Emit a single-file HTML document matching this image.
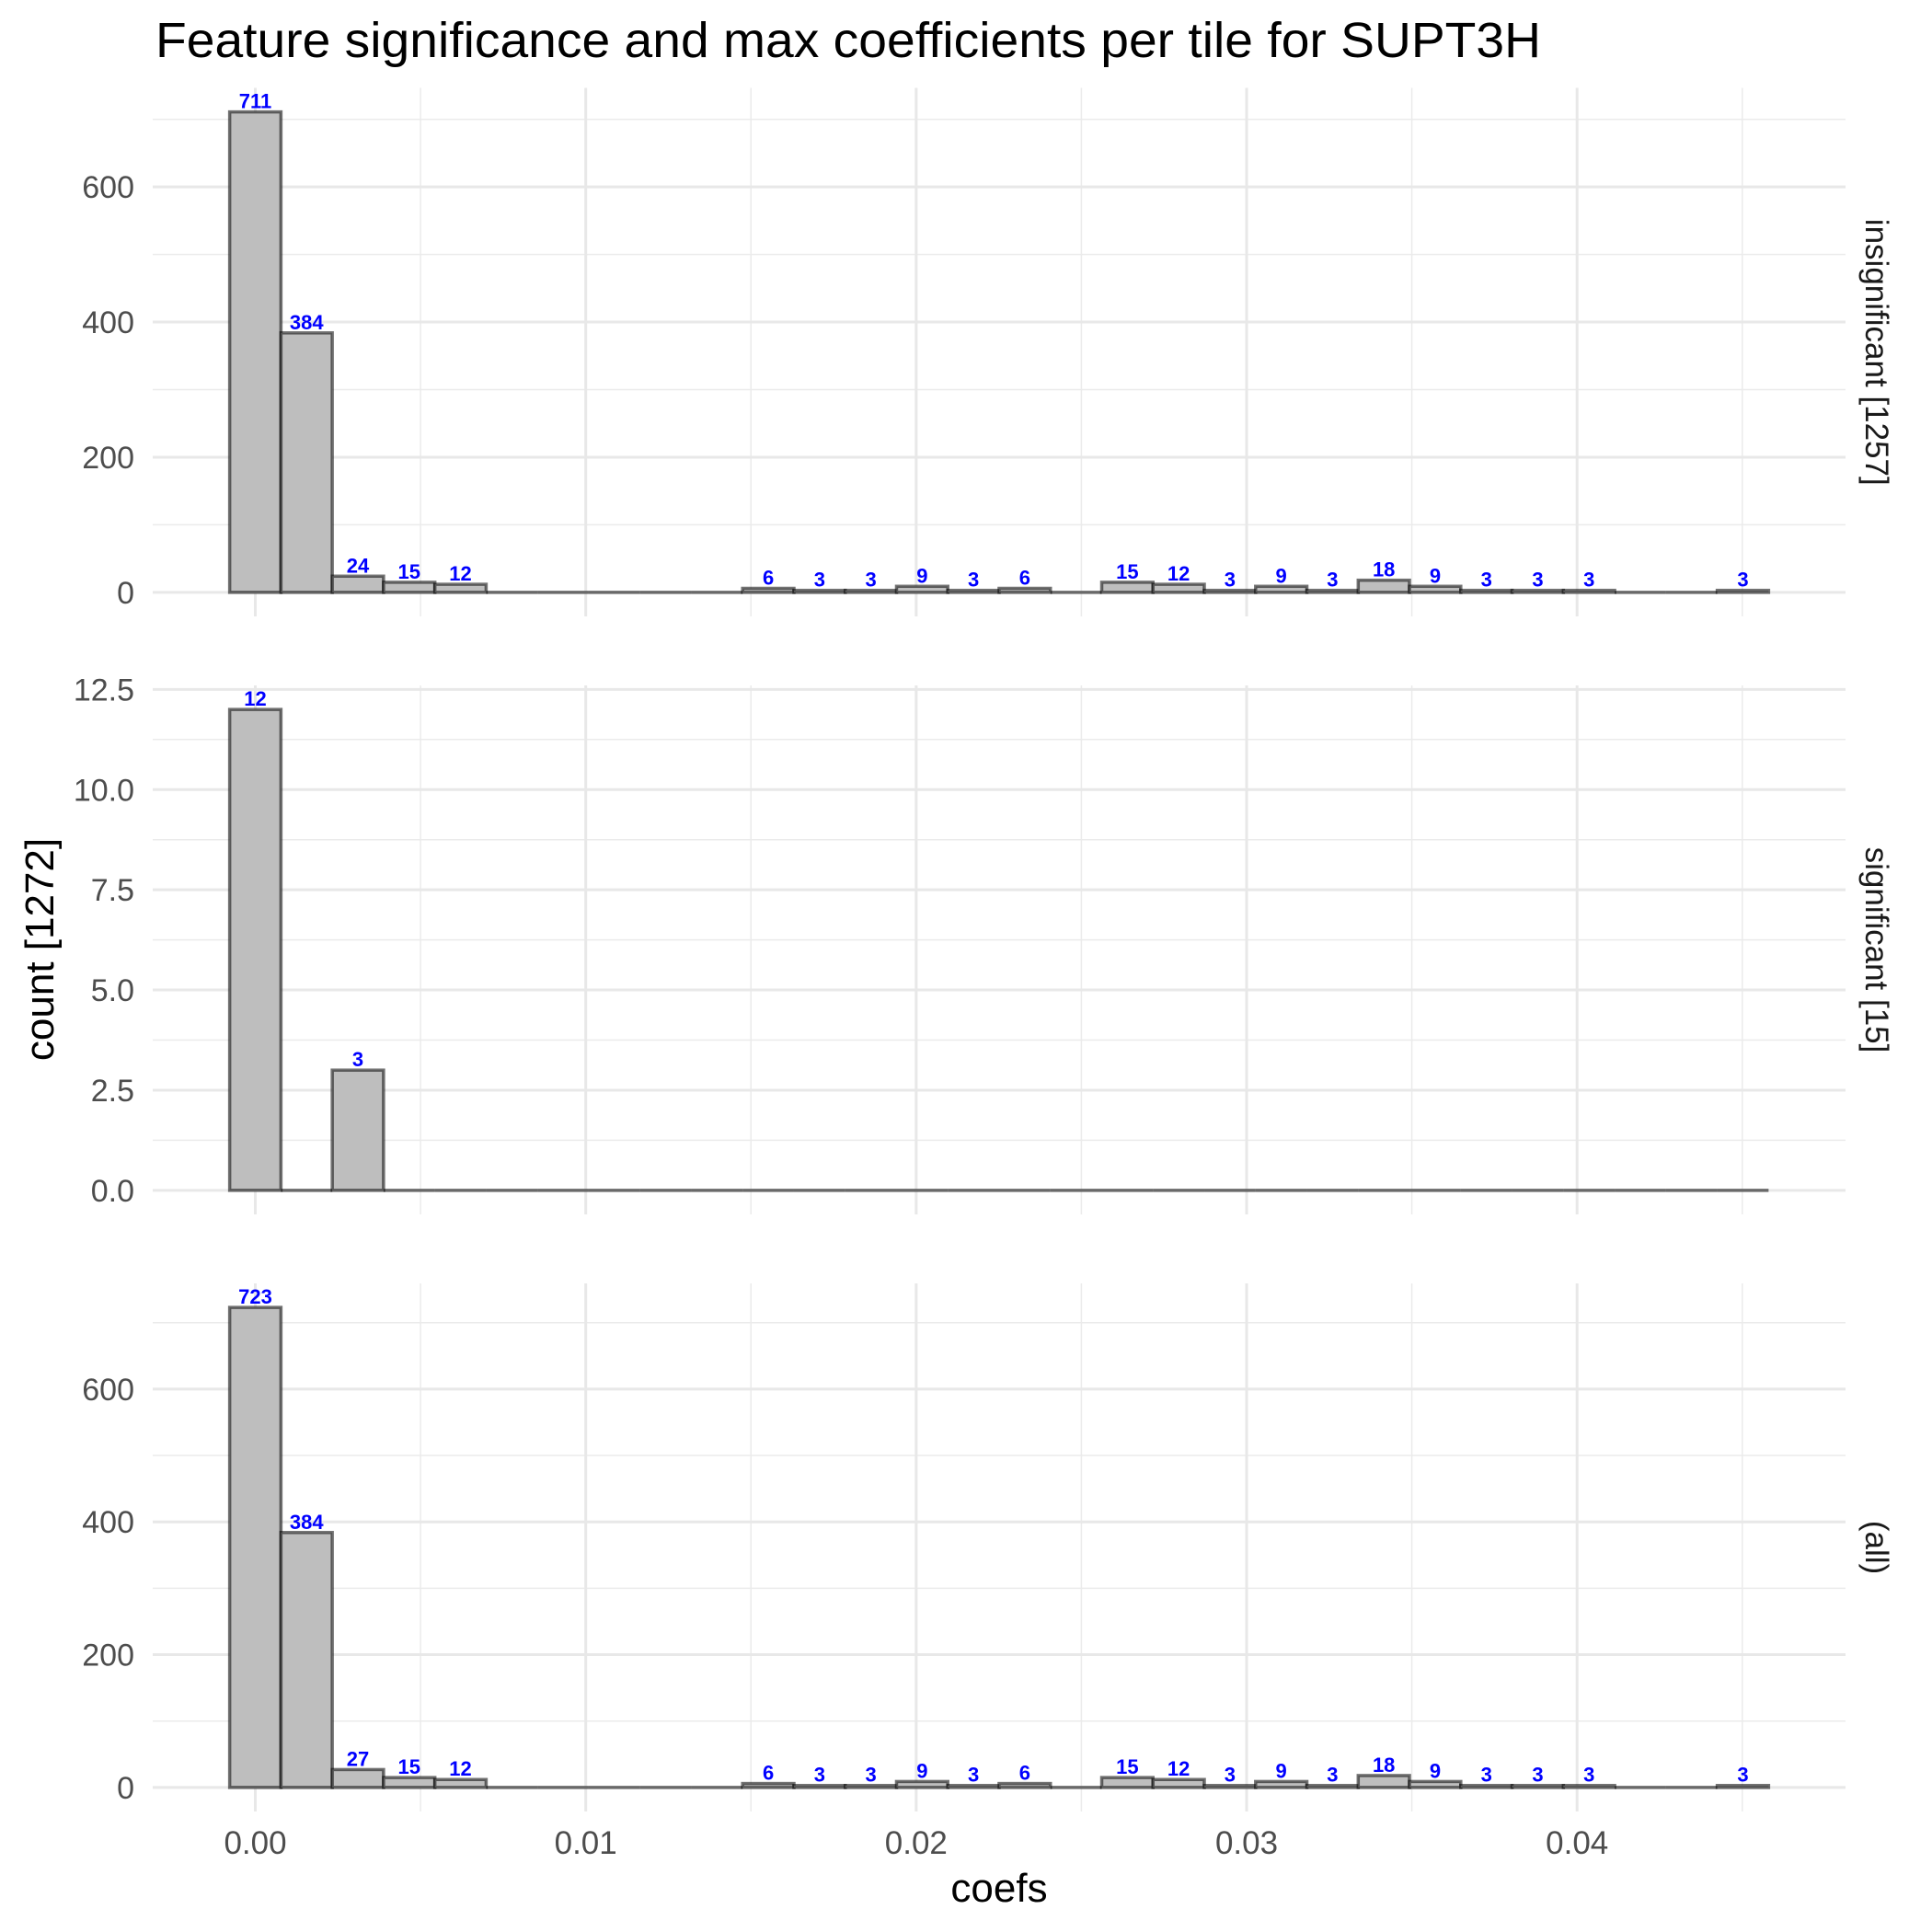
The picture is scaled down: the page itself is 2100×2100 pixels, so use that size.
<!DOCTYPE html>
<html><head><meta charset="utf-8"><style>html,body{margin:0;padding:0;background:#fff}svg{display:block}</style></head>
<body>
<svg id="chart" width="2100" height="2100" viewBox="0 0 2100 2100" xmlns="http://www.w3.org/2000/svg" font-family="'Liberation Sans', sans-serif">
<rect width="2100" height="2100" fill="#fff"/>
<text x="169" y="62" font-size="54" fill="#000" textLength="1506" lengthAdjust="spacingAndGlyphs">Feature significance and max coefficients per tile for SUPT3H</text>
<text x="1086" y="2067" font-size="44" text-anchor="middle" fill="#000">coefs</text>
<text transform="translate(58,1032) rotate(-90)" font-size="44" text-anchor="middle" fill="#000">count [1272]</text>
<g id="panels"></g>
</svg>
<script>
const binWidth = 0.0015524;
const binCount = 30;
const panelLabels = ["insignificant [1257]", "significant [15]", "(all)"];
const countsInsig = [711,384,24,15,12,0,0,0,0,0,6,3,3,9,3,6,0,15,12,3,9,3,18,9,3,3,3,0,0,3];
const countsSig = [12,0,3,0,0,0,0,0,0,0,0,0,0,0,0,0,0,0,0,0,0,0,0,0,0,0,0,0,0,0];
const countsAll = [723,384,27,15,12,0,0,0,0,0,6,3,3,9,3,6,0,15,12,3,9,3,18,9,3,3,3,0,0,3];
const xTicks = [0, 0.01, 0.02, 0.03, 0.04];
const xTickLabels = ["0.00", "0.01", "0.02", "0.03", "0.04"];
const yTicksLarge = [0, 200, 400, 600];
const yTicksSmall = [0, 2.5, 5, 7.5, 10, 12.5];
const yTickLabelsSmall = ["0.0", "2.5", "5.0", "7.5", "10.0", "12.5"];

const NS = "http://www.w3.org/2000/svg";
const root = document.getElementById("panels");
const PL = 166, PR = 2006;
const xMin = -binWidth/2, xMax = (binCount - 0.5) * binWidth;
const xPad = (xMax - xMin) * 0.05;
function xs(v){ return PL + (v - (xMin - xPad)) / ((xMax + xPad) - (xMin - xPad)) * (PR - PL); }
function mk(tag, attrs, parent){ const e = document.createElementNS(NS, tag); for (const k in attrs) e.setAttribute(k, attrs[k]); parent.appendChild(e); return e; }

const panels = [
  {top: 95.5, bottom: 670, counts: countsInsig, ticks: yTicksLarge, labels: yTicksLarge.map(String), minorStep: 100, name: "insignificant"},
  {top: 745, bottom: 1320, counts: countsSig, ticks: yTicksSmall, labels: yTickLabelsSmall, minorStep: 1.25, name: "significant"},
  {top: 1395, bottom: 1969, counts: countsAll, ticks: yTicksLarge, labels: yTicksLarge.map(String), minorStep: 100, name: "all"}
];

panels.forEach((p, pi) => {
  const g = mk("g", {}, root);
  
  
  const maxC = Math.max(...p.counts);
  const pad = maxC * 0.05;
  const y0 = -pad, y1 = maxC + pad;
  const ys = v => p.bottom - (v - y0) / (y1 - y0) * (p.bottom - p.top);
  for (let v = p.minorStep; v < y1; v += p.minorStep * 2) {
    const l = mk("line", {x1: PL, x2: PR, y1: ys(v), y2: ys(v), stroke: "#ebebeb", "stroke-width": 1.5}, g);
    
    
  }
  for (let i = 0; i < xTicks.length; i++) {
    const v = xTicks[i] + 0.005;
    const l = mk("line", {x1: xs(v), x2: xs(v), y1: p.top, y2: p.bottom, stroke: "#ebebeb", "stroke-width": 1.5}, g);
    
    
  }
  p.ticks.forEach((v, i) => {
    const l = mk("line", {x1: PL, x2: PR, y1: ys(v), y2: ys(v), stroke: "#e8e8e8", "stroke-width": 3}, g);
    
    
    const t = mk("text", {x: 146, y: ys(v) + 12, "font-size": 34, "text-anchor": "end", fill: "#4d4d4d"}, g);
    t.textContent = p.labels[i];
    
    
  });
  xTicks.forEach(v => {
    const l = mk("line", {x1: xs(v), x2: xs(v), y1: p.top, y2: p.bottom, stroke: "#e8e8e8", "stroke-width": 3}, g);
    
    
  });
  p.counts.forEach((c, k) => {
    const xl = xs((k - 0.5) * binWidth), xr = xs((k + 0.5) * binWidth);
    if (c > 0) {
      const r = mk("rect", {x: xl, y: ys(c), width: xr - xl, height: ys(0) - ys(c), fill: "#bebebe", stroke: "#000", "stroke-opacity": 0.55, "stroke-width": 3.5}, g);
      
      
      const t = mk("text", {x: (xl + xr) / 2, y: ys(c) - 4, "font-size": 22, "font-weight": "bold", "text-anchor": "middle", fill: "#0000ff"}, g);
      t.textContent = String(c);
      
      
    } else {
      const r = mk("line", {x1: xl, x2: xr, y1: ys(0), y2: ys(0), stroke: "#000", "stroke-opacity": 0.55, "stroke-width": 3.5}, g);
      
      
    }
  });
  const st = mk("text", {transform: "translate(2028," + ((p.top + p.bottom) / 2) + ") rotate(90)", "font-size": 35, "text-anchor": "middle", fill: "#1a1a1a"}, g);
  st.textContent = panelLabels[pi];
  
  
});
xTicks.forEach((v, i) => {
  const t = mk("text", {x: xs(v), y: 2015, "font-size": 35, "text-anchor": "middle", fill: "#4d4d4d"}, root);
  t.textContent = xTickLabels[i];
  
  
});
</script>
</body></html>
